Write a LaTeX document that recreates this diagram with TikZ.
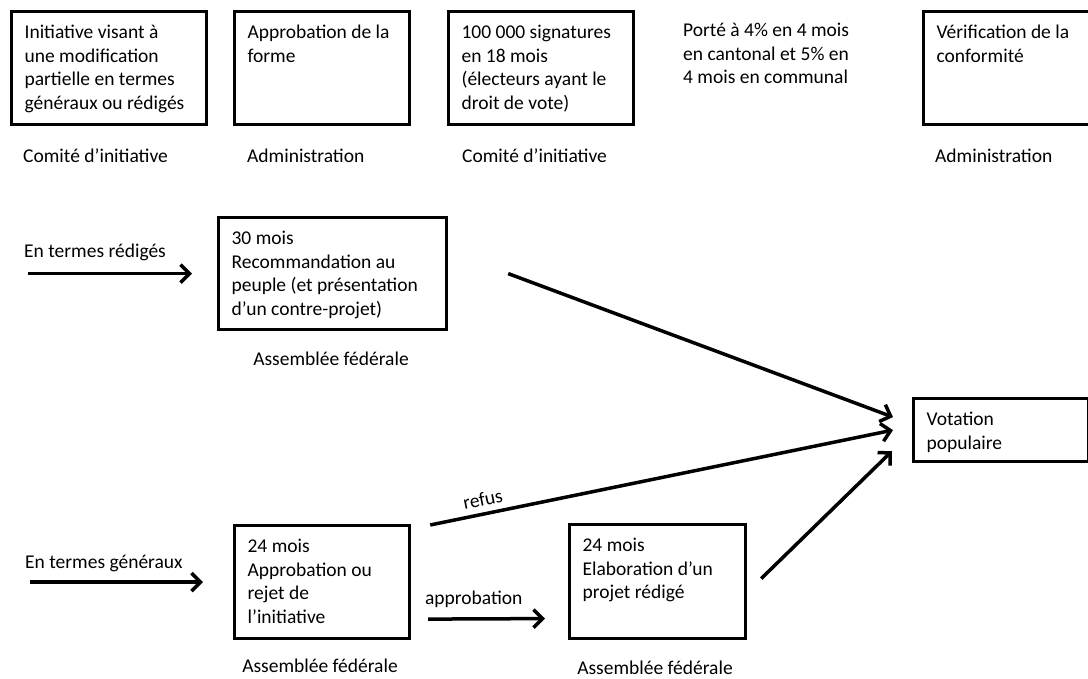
\documentclass[tikz,border=0pt]{standalone}
\usepackage{fontspec}
\setmainfont{Carlito}
\usetikzlibrary{arrows.meta}
\newcommand{\boxtext}[3]{\parbox[c][#2][t]{#1}{\vspace*{10.5pt}\hspace*{13pt}\begin{tabular}[t]{@{}l@{}}#3\end{tabular}}}
\newcommand{\lines}[1]{\begin{tabular}[t]{@{}l@{}}#1\end{tabular}}
\begin{document}
\begin{tikzpicture}[x=1pt,y=-1pt,
  font=\fontsize{19.5}{23.5}\selectfont,
  box/.style={draw, line width=3.2pt, inner sep=0pt, anchor=north west},
  lbl/.style={anchor=base west, inner sep=0pt},
  clbl/.style={anchor=base, inner sep=0pt},
  arr/.style={line width=3.5pt, -{Straight Barb[length=9pt,width=18pt]}}]
\useasboundingbox (0,0) rectangle (1088,679);
% top row
\node[box] (b1) at (10,10) {\boxtext{195pt}{113pt}{Initiative visant à\\une modification\\partielle en termes\\généraux ou rédigés}};
\node[box] (b2) at (233,10) {\boxtext{175pt}{113pt}{Approbation de la\\forme}};
\node[box] (b3) at (447,10) {\boxtext{185pt}{113pt}{100 000 signatures\\en 18 mois\\(électeurs ayant le\\droit de vote)}};
\node[lbl] (p) at (683,37) {\lines{Porté à 4\% en 4 mois\\en cantonal et 5\% en\\4 mois en communal}};
\node[box] (b4) at (922,10) {\boxtext{175pt}{113pt}{Vérification de la\\conformité}};
\node[lbl] (l1) at (23,163) {Comité d’initiative};
\node[lbl] (l2) at (247,163) {Administration};
\node[lbl] (l3) at (462,163) {Comité d’initiative};
\node[lbl] (l4) at (935,163) {Administration};
% middle
\node[box] (b30) at (217,216) {\boxtext{228pt}{112pt}{30 mois\\Recommandation au\\peuple (et présentation\\d’un contre-projet)}};
\node[clbl] (l5) at (331,366) {Assemblée fédérale};
\node[lbl] (r) at (24,258) {En termes rédigés};
\coordinate (r1) at ([xshift=-189pt]b30.west);
\node[box] (V) at (912,397) {\boxtext{175pt}{63pt}{Votation\\populaire}};
% bottom
\node[box] (bA) at (233,524) {\boxtext{175pt}{113pt}{24 mois\\Approbation ou\\rejet de\\l’initiative}};
\node[clbl] (l6) at (320,672) {Assemblée fédérale};
\node[lbl] (g) at (25,568) {En termes généraux};
\coordinate (g1) at ([xshift=-203pt]bA.west);
\node[box] (bE) at (568,523) {\boxtext{176pt}{114pt}{24 mois\\Elaboration d’un\\projet rédigé}};
\node[clbl] (l7) at (655,674) {Assemblée fédérale};
% connectors
\draw[arr] (r1) -- ([xshift=-25pt]b30.west);
\draw[arr] (g1) -- ([xshift=-30pt]bA.west);
\draw[arr] ([shift={(17,37)}]bA.east) -- node[pos=0.39, anchor=base, yshift=14pt, inner sep=0pt]{approbation} ([shift={(-23,37)}]bE.west);
\draw[arr] ([xshift=60pt]b30.east) -- ([shift={(-19,-13)}]V.west);
\draw[arr] ([shift={(19,1)}]bA.north east) -- node[pos=0.12, above, sloped, inner sep=6pt]{refus} ([xshift=-19pt]V.west);
\draw[arr] ([shift={(14,-3)}]bE.east) -- ([shift={(-20,21)}]V.west);
\end{tikzpicture}
\end{document}
